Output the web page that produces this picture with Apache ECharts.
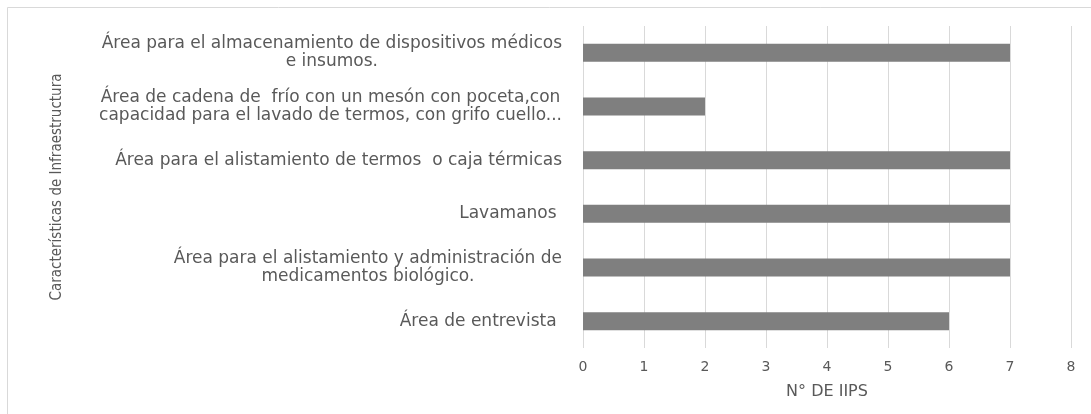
<!DOCTYPE html>
<html>
<head>
<meta charset="utf-8">
<script src="https://cdn.jsdelivr.net/npm/echarts@6/dist/echarts.min.js"></script>
<style>
  html, body { margin: 0; padding: 0; background: #fff; }
  #chart { width: 1091px; height: 414px; }
</style>
</head>
<body>
<div id="chart"></div>
<script>
// top-to-bottom order as in the picture
const categories = [
  'Área para el almacenamiento de dispositivos médicos\ne insumos.',
  'Área de cadena de  frío con un mesón con poceta,con\ncapacidad para el lavado de termos, con grifo cuello...',
  'Área para el alistamiento de termos  o caja térmicas',
  'Lavamanos ',
  'Área para el alistamiento y administración de\nmedicamentos biológico.',
  'Área de entrevista ',
];
const counts = [7, 2, 7, 7, 7, 6];
const xTicks = [0, 1, 2, 3, 4, 5, 6, 7, 8];

const textColor = '#595959';
const gridColor = '#d9d9d9';
const labelFont = 'DejaVu Sans';

const chart = echarts.init(document.getElementById('chart'), null, { renderer: 'canvas' });

chart.setOption({
  backgroundColor: '#fff',
  animation: false,
  graphic: [{
    type: 'rect',
    shape: { x: 7.5, y: 7.5, width: 1200, height: 600 },
    style: { fill: 'none', stroke: gridColor, lineWidth: 1 },
    silent: true,
  }],
  grid: { left: 583, right: 20, top: 26, bottom: 66 },
  xAxis: {
    type: 'value',
    min: xTicks[0],
    max: xTicks[xTicks.length - 1],
    interval: 1,
    name: 'N° DE IIPS',
    nameLocation: 'middle',
    nameGap: 36,
    nameTextStyle: { color: textColor, fontSize: 16, fontFamily: labelFont },
    axisLine: { show: false },
    axisTick: { show: false },
    axisLabel: { color: textColor, fontSize: 14, fontFamily: labelFont, margin: 12 },
    splitLine: { lineStyle: { color: gridColor, width: 1 } },
  },
  yAxis: {
    type: 'category',
    inverse: true,
    data: categories,
    name: 'Características de Infraestructura',
    nameLocation: 'middle',
    nameRotate: 90,
    nameGap: 518,
    nameTextStyle: { color: textColor, fontSize: 15, fontFamily: '"DejaVu Sans Condensed", "DejaVu Sans"' },
    axisLine: { show: false },
    axisTick: { show: false },
    axisLabel: {
      margin: 21,
      formatter: (value) => value.split('\n').map((line) => '{c|' + line + '}').join('\n'),
      rich: {
        c: { align: 'center', color: textColor, fontSize: 17, fontFamily: labelFont, lineHeight: 18 },
      },
    },
  },
  series: [{
    type: 'bar',
    data: counts,
    barWidth: 18,
    itemStyle: { color: '#7f7f7f' },
  }],
});
</script>
</body>
</html>
